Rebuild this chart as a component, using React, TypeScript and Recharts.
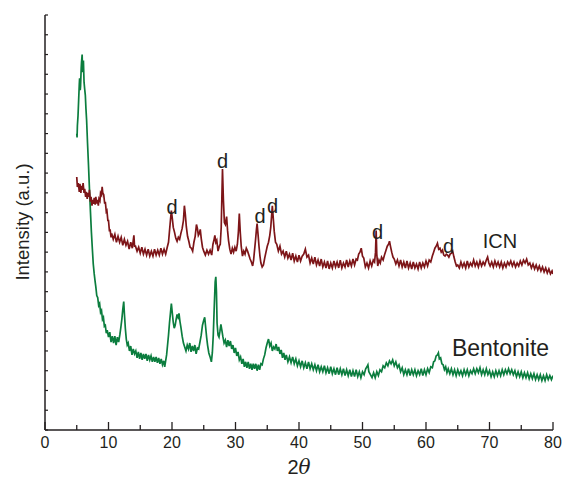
import React from 'react';
import { LineChart, Line, XAxis, YAxis, ReferenceDot } from 'recharts';

// [2theta, intensity] (noise band kept as zigzag)
const icnPattern: [number, number][] = [
  [5.0, 256], [5.1, 246], [5.25, 250], [5.4, 241], [5.5, 249], [5.65, 240], [5.75, 247], [5.9, 243],
  [6.0, 250], [6.15, 240], [6.25, 244], [6.4, 236], [6.5, 241], [6.65, 234], [6.75, 240], [6.9, 236],
  [7.0, 243], [7.15, 231], [7.25, 236], [7.4, 227], [7.5, 233], [7.65, 229], [7.75, 235], [7.9, 228],
  [8.0, 236], [8.15, 229], [8.25, 233], [8.4, 227], [8.5, 234], [8.65, 232], [8.75, 240], [8.9, 238],
  [9.0, 246], [9.1, 240], [9.25, 238], [9.4, 229], [9.5, 231], [9.65, 221], [9.75, 222], [9.9, 212],
  [10.0, 212], [10.15, 201], [10.25, 203], [10.4, 195], [10.5, 199], [10.75, 193], [11.0, 198], [11.25, 190],
  [11.5, 196], [11.75, 190], [12.0, 195], [12.25, 187], [12.5, 193], [12.75, 187], [13.0, 191], [13.25, 183],
  [13.5, 190], [13.75, 184], [13.9, 192], [14.0, 197], [14.1, 186], [14.25, 186], [14.5, 181], [14.75, 185],
  [15.0, 179], [15.25, 185], [15.5, 178], [15.75, 183], [16.0, 177], [16.25, 183], [16.5, 176], [16.75, 181],
  [17.0, 176], [17.25, 183], [17.5, 177], [17.75, 182], [18.0, 177], [18.25, 184], [18.5, 178], [18.75, 183],
  [19.0, 178], [19.25, 185], [19.45, 190], [19.6, 201], [19.75, 212], [19.9, 222], [20.05, 214], [20.2, 205],
  [20.4, 200], [20.6, 194], [20.8, 191], [21.0, 195], [21.2, 193], [21.4, 199], [21.6, 204], [21.8, 212],
  [21.95, 227], [22.1, 218], [22.25, 206], [22.45, 196], [22.65, 191], [22.85, 185], [23.05, 184], [23.25, 181],
  [23.45, 190], [23.65, 196], [23.85, 208], [24.0, 204], [24.15, 197], [24.3, 199], [24.45, 203], [24.6, 194],
  [24.8, 185], [25.0, 181], [25.25, 177], [25.5, 182], [25.75, 178], [26.0, 182], [26.25, 177], [26.45, 188],
  [26.6, 192], [26.75, 197], [26.9, 190], [27.05, 192], [27.25, 181], [27.45, 186], [27.6, 188], [27.75, 205],
  [27.95, 264], [28.1, 232], [28.25, 210], [28.4, 208], [28.6, 216], [28.75, 202], [28.9, 192], [29.1, 183],
  [29.3, 178], [29.5, 184], [29.7, 180], [29.9, 185], [30.1, 181], [30.3, 188], [30.45, 200], [30.6, 219],
  [30.75, 200], [30.9, 186], [31.1, 176], [31.3, 181], [31.5, 178], [31.7, 184], [31.9, 181], [32.1, 177],
  [32.3, 173], [32.5, 170], [32.7, 166], [32.85, 172], [33.0, 182], [33.15, 192], [33.3, 203], [33.4, 209],
  [33.55, 198], [33.7, 186], [33.85, 176], [34.0, 169], [34.2, 165], [34.4, 167], [34.6, 174], [34.8, 180],
  [35.0, 186], [35.2, 190], [35.4, 197], [35.55, 205], [35.7, 218], [35.8, 227], [35.95, 214], [36.1, 201],
  [36.3, 190], [36.5, 188], [36.75, 181], [37.0, 186], [37.25, 178], [37.5, 181], [37.75, 175], [38.0, 181],
  [38.25, 174], [38.5, 178], [38.75, 172], [39.0, 179], [39.25, 171], [39.5, 176], [39.75, 170], [40.0, 177],
  [40.25, 171], [40.5, 176], [40.75, 178], [41.0, 183], [41.25, 175], [41.5, 177], [41.75, 169], [42.0, 174],
  [42.25, 168], [42.5, 175], [42.75, 167], [43.0, 172], [43.25, 166], [43.5, 173], [43.75, 165], [44.0, 170],
  [44.25, 164], [44.5, 171], [44.75, 163], [45.0, 169], [45.25, 164], [45.5, 171], [45.75, 165], [46.0, 170],
  [46.25, 164], [46.5, 172], [46.75, 164], [47.0, 169], [47.25, 165], [47.5, 172], [47.75, 165], [48.0, 171],
  [48.25, 166], [48.5, 173], [48.75, 167], [49.0, 173], [49.2, 172], [49.4, 178], [49.6, 180], [49.8, 184],
  [50.0, 176], [50.2, 174], [50.45, 165], [50.7, 169], [50.95, 164], [51.2, 171], [51.45, 166], [51.7, 172],
  [51.9, 170], [52.05, 180], [52.15, 202], [52.25, 178], [52.4, 166], [52.6, 172], [52.8, 169], [53.0, 175],
  [53.25, 172], [53.5, 178], [53.7, 182], [53.9, 186], [54.1, 188], [54.25, 191], [54.4, 186], [54.6, 180],
  [54.8, 175], [55.0, 173], [55.25, 168], [55.5, 172], [55.75, 166], [56.0, 172], [56.25, 165], [56.5, 170],
  [56.75, 164], [57.0, 171], [57.25, 164], [57.5, 169], [57.75, 163], [58.0, 170], [58.25, 164], [58.5, 168],
  [58.75, 163], [59.0, 170], [59.25, 164], [59.5, 169], [59.75, 165], [60.0, 171], [60.25, 166], [60.5, 172],
  [60.75, 170], [61.0, 176], [61.2, 180], [61.4, 184], [61.6, 186], [61.8, 189], [62.0, 183], [62.2, 184],
  [62.4, 180], [62.6, 182], [62.8, 177], [63.0, 176], [63.2, 178], [63.4, 177], [63.6, 175], [63.8, 178],
  [64.0, 179], [64.2, 181], [64.4, 175], [64.6, 170], [64.8, 166], [65.0, 167], [65.25, 164], [65.5, 170],
  [65.75, 165], [66.0, 169], [66.25, 164], [66.5, 171], [66.75, 165], [67.0, 169], [67.25, 166], [67.5, 172],
  [67.75, 166], [68.0, 170], [68.25, 165], [68.5, 171], [68.75, 166], [69.0, 170], [69.25, 167], [69.5, 172],
  [69.7, 175], [69.9, 169], [70.1, 166], [70.35, 170], [70.6, 165], [70.85, 171], [71.1, 166], [71.35, 170],
  [71.6, 165], [71.85, 170], [72.1, 164], [72.35, 169], [72.6, 165], [72.85, 170], [73.1, 167], [73.35, 171],
  [73.6, 166], [73.85, 170], [74.1, 165], [74.35, 169], [74.6, 166], [74.85, 171], [75.1, 167], [75.35, 172],
  [75.6, 169], [75.85, 173], [76.1, 167], [76.35, 169], [76.6, 164], [76.85, 168], [77.1, 163], [77.35, 167],
  [77.6, 162], [77.85, 166], [78.1, 161], [78.35, 165], [78.6, 160], [78.85, 164], [79.1, 159], [79.35, 163],
  [79.6, 158], [79.85, 161], [80.0, 158],
];

const bentonitePattern: [number, number][] = [
  [5.0, 300], [5.05, 296], [5.1, 308], [5.2, 318], [5.3, 334], [5.4, 350], [5.45, 356], [5.55, 344],
  [5.6, 348], [5.7, 366], [5.75, 372], [5.85, 380], [5.92, 362], [6.0, 370], [6.05, 374], [6.15, 352],
  [6.25, 345], [6.35, 339], [6.45, 325], [6.55, 314], [6.7, 290], [6.85, 268], [7.0, 244], [7.15, 222],
  [7.3, 201], [7.45, 184], [7.6, 168], [7.75, 158], [7.9, 150], [8.0, 145], [8.15, 136], [8.3, 134],
  [8.45, 126], [8.6, 128], [8.75, 119], [8.9, 121], [9.05, 112], [9.2, 114], [9.35, 105], [9.5, 106],
  [9.65, 98], [9.8, 101], [10.0, 94], [10.2, 99], [10.4, 89], [10.6, 95], [10.8, 88], [11.0, 95],
  [11.2, 86], [11.4, 94], [11.6, 89], [11.8, 97], [11.95, 104], [12.1, 112], [12.25, 122], [12.4, 130],
  [12.5, 118], [12.65, 103], [12.8, 92], [12.95, 86], [13.1, 88], [13.3, 80], [13.5, 85], [13.7, 76],
  [13.9, 82], [14.1, 77], [14.3, 80], [14.5, 73], [14.7, 79], [14.9, 72], [15.1, 78], [15.3, 71],
  [15.5, 77], [15.7, 72], [15.9, 77], [16.1, 70], [16.3, 76], [16.5, 71], [16.7, 75], [16.9, 69],
  [17.1, 74], [17.3, 69], [17.5, 74], [17.7, 68], [17.9, 73], [18.1, 67], [18.3, 72], [18.5, 66],
  [18.7, 70], [18.85, 64], [19.0, 70], [19.15, 76], [19.3, 86], [19.45, 96], [19.6, 108], [19.75, 118],
  [19.9, 128], [20.05, 118], [20.2, 109], [20.35, 103], [20.5, 106], [20.65, 112], [20.8, 117], [20.95, 114],
  [21.1, 118], [21.25, 110], [21.4, 104], [21.6, 95], [21.8, 88], [22.0, 84], [22.2, 80], [22.4, 86],
  [22.6, 82], [22.8, 88], [23.0, 79], [23.2, 85], [23.4, 80], [23.6, 86], [23.8, 77], [24.0, 83],
  [24.2, 82], [24.4, 89], [24.6, 96], [24.8, 106], [25.0, 111], [25.15, 114], [25.3, 104], [25.45, 94],
  [25.6, 86], [25.8, 78], [26.0, 74], [26.2, 69], [26.35, 78], [26.5, 96], [26.65, 124], [26.8, 150],
  [26.9, 155], [27.0, 140], [27.1, 108], [27.25, 96], [27.4, 94], [27.55, 100], [27.7, 107], [27.85, 101],
  [28.0, 95], [28.2, 88], [28.4, 91], [28.6, 84], [28.8, 91], [29.0, 85], [29.2, 90], [29.4, 82],
  [29.6, 86], [29.8, 78], [30.0, 83], [30.2, 75], [30.4, 79], [30.6, 71], [30.8, 74], [31.0, 67],
  [31.2, 72], [31.4, 64], [31.6, 69], [31.8, 63], [32.0, 69], [32.2, 62], [32.4, 67], [32.6, 61],
  [32.8, 67], [33.0, 62], [33.2, 67], [33.4, 60], [33.6, 66], [33.8, 61], [34.0, 67], [34.2, 66],
  [34.4, 72], [34.6, 76], [34.8, 83], [35.0, 88], [35.2, 92], [35.4, 85], [35.6, 88], [35.8, 80],
  [36.0, 84], [36.2, 82], [36.4, 87], [36.6, 80], [36.8, 84], [37.0, 77], [37.2, 81], [37.4, 73],
  [37.6, 78], [37.8, 71], [38.0, 76], [38.25, 69], [38.5, 74], [38.75, 68], [39.0, 74], [39.25, 67],
  [39.5, 72], [39.75, 65], [40.0, 70], [40.25, 64], [40.5, 70], [40.75, 63], [41.0, 68], [41.25, 62],
  [41.5, 69], [41.75, 62], [42.0, 67], [42.25, 61], [42.5, 66], [42.75, 60], [43.0, 66], [43.25, 59],
  [43.5, 64], [43.75, 59], [44.0, 65], [44.25, 58], [44.5, 63], [44.75, 57], [45.0, 64], [45.25, 57],
  [45.5, 62], [45.75, 56], [46.0, 63], [46.25, 56], [46.5, 62], [46.75, 56], [47.0, 62], [47.25, 55],
  [47.5, 61], [47.75, 55], [48.0, 61], [48.25, 54], [48.5, 60], [48.75, 54], [49.0, 61], [49.25, 54],
  [49.5, 59], [49.75, 53], [50.0, 59], [50.25, 56], [50.5, 62], [50.7, 64], [50.85, 66], [51.0, 59],
  [51.25, 56], [51.5, 53], [51.75, 58], [52.0, 53], [52.25, 59], [52.5, 55], [52.75, 61], [53.0, 59],
  [53.25, 65], [53.5, 63], [53.75, 68], [54.0, 65], [54.25, 70], [54.5, 67], [54.75, 71], [55.0, 65],
  [55.25, 69], [55.5, 63], [55.75, 66], [56.0, 59], [56.25, 63], [56.5, 56], [56.75, 61], [57.0, 56],
  [57.25, 62], [57.5, 55], [57.75, 61], [58.0, 56], [58.25, 61], [58.5, 55], [58.75, 60], [59.0, 56],
  [59.25, 62], [59.5, 55], [59.75, 61], [60.0, 56], [60.25, 62], [60.5, 58], [60.75, 64], [61.0, 63],
  [61.2, 69], [61.4, 70], [61.6, 75], [61.8, 76], [61.95, 78], [62.1, 72], [62.3, 73], [62.5, 67],
  [62.7, 66], [62.9, 61], [63.1, 64], [63.3, 58], [63.5, 62], [63.75, 57], [64.0, 62], [64.25, 56],
  [64.5, 61], [64.75, 55], [65.0, 61], [65.25, 56], [65.5, 60], [65.75, 55], [66.0, 61], [66.25, 56],
  [66.5, 61], [66.75, 55], [67.0, 60], [67.25, 57], [67.5, 62], [67.75, 57], [68.0, 62], [68.25, 58],
  [68.5, 63], [68.75, 56], [69.0, 61], [69.25, 56], [69.5, 62], [69.75, 56], [70.0, 60], [70.25, 54],
  [70.5, 59], [70.75, 54], [71.0, 60], [71.25, 55], [71.5, 60], [71.75, 55], [72.0, 61], [72.25, 56],
  [72.5, 61], [72.75, 57], [73.0, 62], [73.25, 57], [73.5, 61], [73.75, 56], [74.0, 60], [74.25, 54],
  [74.5, 59], [74.75, 54], [75.0, 59], [75.25, 53], [75.5, 58], [75.75, 53], [76.0, 58], [76.25, 52],
  [76.5, 57], [76.75, 52], [77.0, 57], [77.25, 51], [77.5, 56], [77.75, 51], [78.0, 56], [78.25, 50],
  [78.5, 55], [78.75, 50], [79.0, 56], [79.25, 51], [79.5, 55], [79.75, 51], [80.0, 55],
];

// peak markers and series names: [2theta, intensity, text]
const peakLabels: [number, number, string][] = [
  [20.0, 219, 'd'], [27.95, 265, 'd'], [33.86, 210, 'd'], [35.83, 220, 'd'], [52.36, 193, 'd'], [63.54, 179, 'd'],
];
const seriesLabels: [number, number, string][] = [
  [71.65, 184, 'ICN'], [71.73, 75, 'Bentonite'],
];

const xTicks = [0, 5, 10, 15, 20, 25, 30, 35, 40, 45, 50, 55, 60, 65, 70, 75, 80];
const yTicks = [0, 20, 40, 60, 80, 100, 120, 140, 160, 180, 200, 220, 240, 260, 280, 300, 320, 340, 360, 380, 400, 420];

const icnData = icnPattern.map(([t, i]) => ({ t, i }));
const bentoniteData = bentonitePattern.map(([t, i]) => ({ t, i }));

const INK = '#231f20';
const FONT = '"Liberation Sans", Arial, sans-serif';

const XTick = ({ x, y, payload }: any) => {
  const major = payload.value % 10 === 0;
  return (
    <g>
      <line x1={x} x2={x} y1={y} y2={y - (major ? 8 : 5)} stroke={INK} strokeWidth={1.3} />
      {major && (
        <text x={x} y={y + 18} textAnchor="middle" fontSize={16} fill={INK} fontFamily={FONT}>
          {payload.value}
        </text>
      )}
    </g>
  );
};

const YTick = ({ x, y }: any) => (
  <line x1={x} x2={x + 3} y1={y} y2={y} stroke={INK} strokeWidth={1.2} />
);

const textShape = (text: string, size: number) => (p: any) => (
  <text x={p.cx} y={p.cy} textAnchor="middle" fontSize={size} fill={INK} fontFamily={FONT}>
    {text}
  </text>
);

export default function App() {
  return (
    <div style={{ position: 'absolute', left: 0, top: 0, width: 565, height: 481, background: '#fff', fontFamily: FONT }}>
      <LineChart width={565} height={481} margin={{ top: 15, right: 12, bottom: 0, left: 0 }}>
        <XAxis
          type="number"
          dataKey="t"
          domain={[0, 80]}
          ticks={xTicks}
          interval={0}
          height={51}
          tickSize={0}
          tickMargin={0}
          tick={<XTick />}
          tickLine={false}
          axisLine={{ stroke: INK, strokeWidth: 1.5 }}
          allowDataOverflow
        />
        <YAxis
          type="number"
          dataKey="i"
          domain={[0, 420]}
          ticks={yTicks}
          interval={0}
          width={45}
          tickSize={0}
          tickMargin={0}
          tick={<YTick />}
          tickLine={false}
          axisLine={{ stroke: INK, strokeWidth: 1.5 }}
          allowDataOverflow
        />
        <Line
          data={bentoniteData}
          dataKey="i"
          stroke="#0b7d3e"
          strokeWidth={1.7}
          dot={false}
          isAnimationActive={false}
        />
        <Line
          data={icnData}
          dataKey="i"
          stroke="#7d1518"
          strokeWidth={1.7}
          dot={false}
          isAnimationActive={false}
        />
        {peakLabels.map(([t, i, s], k) => (
          <ReferenceDot key={'p' + k} x={t} y={i} r={0} shape={textShape(s, 20)} />
        ))}
        {seriesLabels.map(([t, i, s], k) => (
          <ReferenceDot key={'s' + k} x={t} y={i} r={0} shape={textShape(s, k === 0 ? 20 : 23)} />
        ))}
      </LineChart>
      <div
        style={{
          position: 'absolute', left: 23, top: 222, transform: 'translate(-50%, -50%) rotate(-90deg)',
          whiteSpace: 'nowrap', fontSize: 18.5, color: INK,
        }}
      >
        Intensity (a.u.)
      </div>
      <div
        style={{
          position: 'absolute', left: 299, top: 467, transform: 'translate(-50%, -50%)',
          whiteSpace: 'nowrap', fontSize: 20, color: INK,
        }}
      >
        2<i style={{ fontFamily: '"DejaVu Serif", serif' }}>θ</i>
      </div>
    </div>
  );
}
